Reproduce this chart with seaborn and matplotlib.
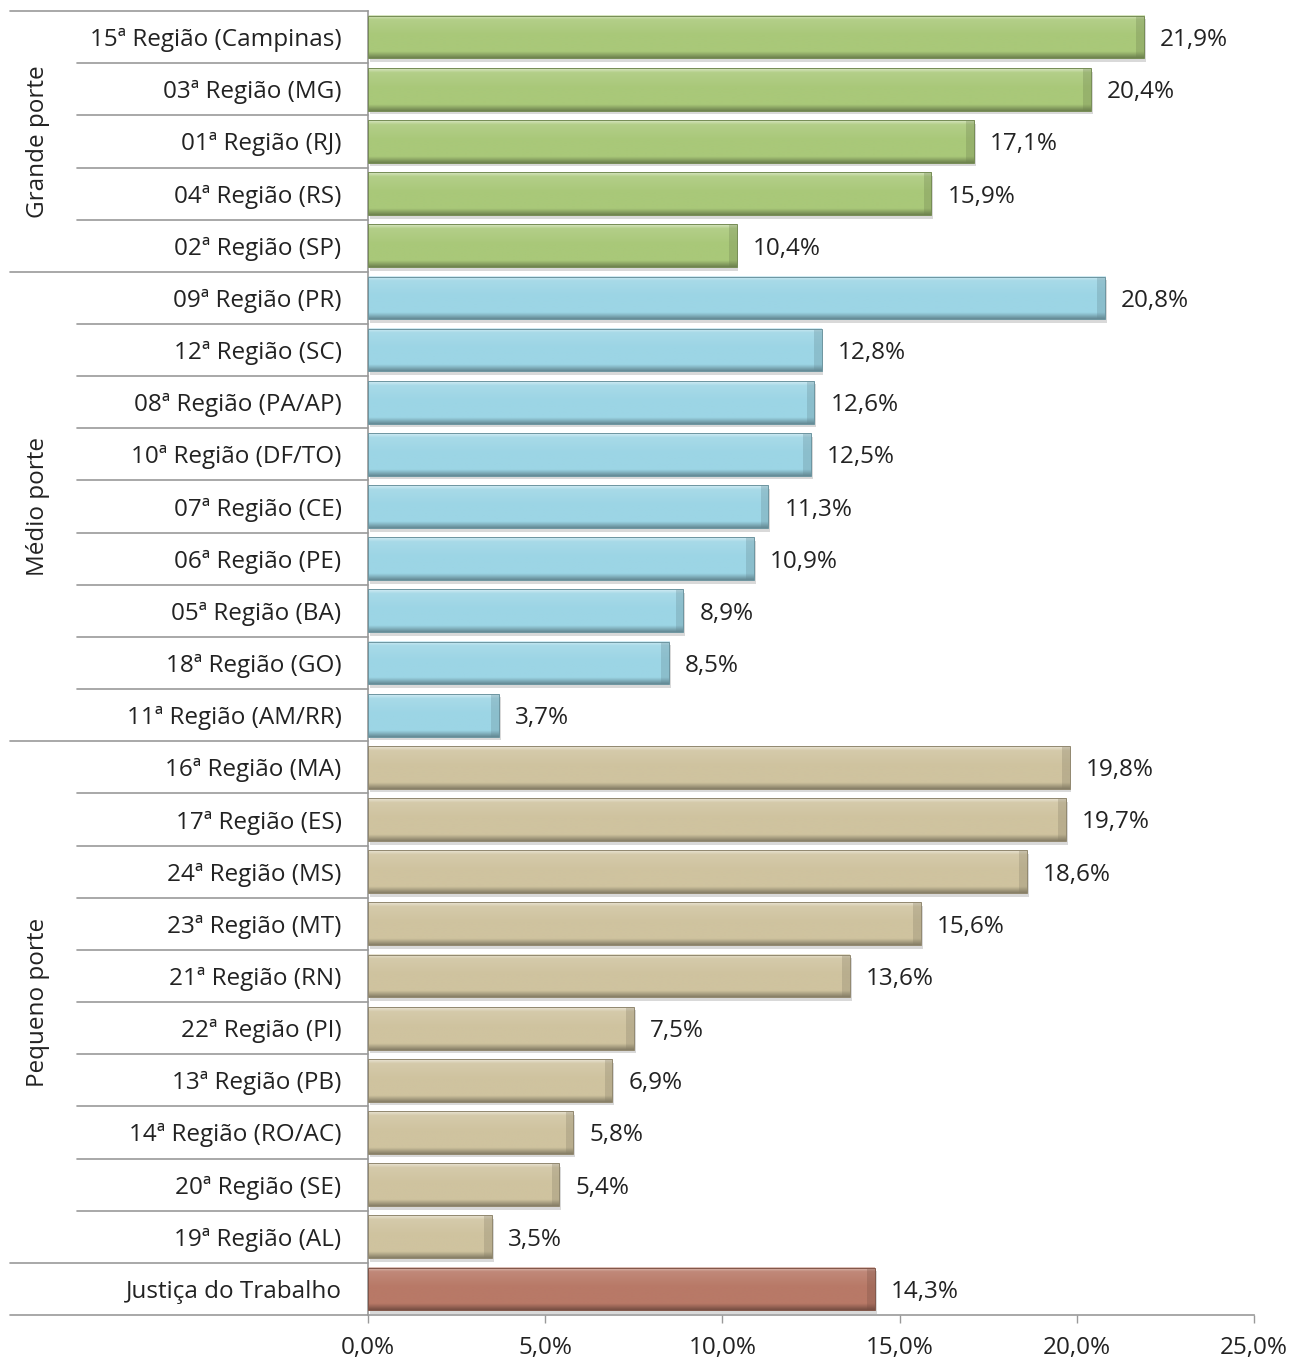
import numpy as np
import pandas as pd
import matplotlib
matplotlib.use("Agg")
import matplotlib.pyplot as plt
import matplotlib.transforms as mtransforms
from matplotlib.colors import to_rgb
import seaborn as sns

# Regional courts and their rates (%), grouped by court size
regioes = [
    "15ª Região (Campinas)", "03ª Região (MG)", "01ª Região (RJ)", "04ª Região (RS)", "02ª Região (SP)",
    "09ª Região (PR)", "12ª Região (SC)", "08ª Região (PA/AP)", "10ª Região (DF/TO)", "07ª Região (CE)",
    "06ª Região (PE)", "05ª Região (BA)", "18ª Região (GO)", "11ª Região (AM/RR)",
    "16ª Região (MA)", "17ª Região (ES)", "24ª Região (MS)", "23ª Região (MT)", "21ª Região (RN)",
    "22ª Região (PI)", "13ª Região (PB)", "14ª Região (RO/AC)", "20ª Região (SE)", "19ª Região (AL)",
    "Justiça do Trabalho",
]
valores = [
    21.9, 20.4, 17.1, 15.9, 10.4,
    20.8, 12.8, 12.6, 12.5, 11.3, 10.9, 8.9, 8.5, 3.7,
    19.8, 19.7, 18.6, 15.6, 13.6, 7.5, 6.9, 5.8, 5.4, 3.5,
    14.3,
]
portes = ["Grande porte"] * 5 + ["Médio porte"] * 9 + ["Pequeno porte"] * 10 + ["Total"]
grupos = ["Grande porte", "Médio porte", "Pequeno porte"]
cores = {"Grande porte": "#A9C879", "Médio porte": "#9CD5E5",
         "Pequeno porte": "#CFC39F", "Total": "#B87967"}
xticks = [0, 5, 10, 15, 20, 25]

df = pd.DataFrame({"regiao": regioes, "valor": valores, "porte": portes})

sns.set_theme(style="white")
plt.rcParams["font.family"] = ["Open Sans", "DejaVu Sans"]
FS = 17.5

fig = plt.figure(figsize=(12.91, 13.61), dpi=100)
ax = fig.add_axes([0.285, 0.0338, 0.6863, 0.9581])

sns.barplot(data=df, x="valor", y="regiao", hue="porte", palette=cores, saturation=1,
            dodge=False, width=0.82, legend=False, ax=ax, order=regioes)


def mix(c, other, t):
    c = np.array(to_rgb(c))
    return c * (1 - t) + np.array(other) * t


# bevelled look for each bar: vertical shading + drop shadow + darker right edge
prof = np.linspace(0, 1, 80)
for patch in list(ax.patches):
    w = patch.get_width()
    if w <= 0:
        continue
    y0 = patch.get_y()
    h = patch.get_height()
    base = patch.get_facecolor()[:3]
    light = mix(base, (1, 1, 1), 0.55)
    upper = mix(base, (1, 1, 1), 0.12)
    mid = np.array(base)
    dark = mix(base, (0, 0, 0), 0.35)
    img = np.zeros((len(prof), 1, 3))
    for i, p in enumerate(prof):
        if p < 0.10:
            t = p / 0.10
            col = light * (1 - t) + upper * t
        elif p < 0.45:
            t = (p - 0.10) / 0.35
            col = upper * (1 - t) + mid * t
        elif p < 0.85:
            col = mid
        else:
            t = (p - 0.85) / 0.15
            col = mid * (1 - t) + dark * t
        img[i, 0] = col
    # soft shadow under the bar
    ax.add_patch(plt.Rectangle((0.05, y0 + 0.07), w, h, facecolor="#000000",
                               alpha=0.15, edgecolor="none", zorder=1.5))
    patch.set_facecolor("none")
    patch.set_edgecolor(tuple(mix(base, (0, 0, 0), 0.3)))
    patch.set_linewidth(0.7)
    patch.set_zorder(3)
    ax.imshow(img, extent=(0, w, y0 + h, y0), aspect="auto", zorder=2,
              interpolation="bilinear")
    ax.add_patch(plt.Rectangle((w - 0.22, y0), 0.22, h, facecolor=tuple(dark),
                               alpha=0.3, edgecolor="none", zorder=2.5))

ax.set_xlim(0, 25)
ax.set_ylim(len(regioes) - 0.5, -0.5)

# value labels
for i, v in enumerate(valores):
    ax.text(v + 0.45, i, f"{v:.1f}%".replace(".", ","), va="center_baseline", ha="left",
            fontsize=FS, color="#222222")

ax.set_xticks(xticks)
ax.set_xticklabels([f"{t:.1f}%".replace(".", ",") for t in xticks], fontsize=FS, color="#222222")
ax.tick_params(axis="x", direction="out", length=6, width=1, color="#999999", pad=9, bottom=True)
ax.tick_params(axis="y", length=0, pad=19, labelsize=FS, labelcolor="#222222")
for lab in ax.get_yticklabels():
    lab.set_verticalalignment("center_baseline")
ax.set_xlabel("")
ax.set_ylabel("")

for side in ["top", "right"]:
    ax.spines[side].set_visible(False)
for side in ["left", "bottom"]:
    ax.spines[side].set_color("#999999")
    ax.spines[side].set_linewidth(1.2)

# row separators in the label area
trans = mtransforms.blended_transform_factory(ax.transAxes, ax.transData)
group_edges = {-0.5, 4.5, 13.5, 23.5, len(regioes) - 0.5}
for k in range(len(regioes) + 1):
    yy = k - 0.5
    x0 = -0.404 if yy in group_edges else -0.328
    ax.plot([x0, 0], [yy, yy], transform=trans, color="#999999", lw=1.2,
            clip_on=False, zorder=1)

# group titles
starts = {"Grande porte": 0, "Médio porte": 5, "Pequeno porte": 14}
for g in grupos:
    n = portes.count(g)
    ymid = starts[g] + (n - 1) / 2
    ax.text(-0.372, ymid, g, transform=trans, rotation=90, va="center", ha="center",
            fontsize=FS, color="#222222")

fig.savefig("out.png", dpi=100)
